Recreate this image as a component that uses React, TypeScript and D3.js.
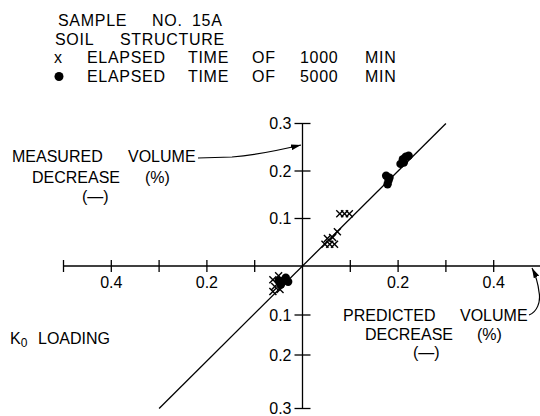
import React from "react";
import * as d3 from "d3";

// ---- data ----
const xTickValues = [-0.5, -0.4, -0.3, -0.2, -0.1, 0.1, 0.2, 0.3, 0.4];
const xTickLabels = [-0.4, -0.2, 0.2, 0.4];
const yTickValues = [0.3, 0.2, 0.1, -0.1, -0.2, -0.3];

// elapsed time of 1000 min (crosses): [predicted, measured]
const cross1000: [number, number][] = [
  [0.078, 0.11], [0.088, 0.11], [0.098, 0.11],
  [0.047, 0.046], [0.057, 0.046], [0.067, 0.046],
  [0.052, 0.058], [0.063, 0.06], [0.073, 0.072],
  [-0.062, -0.028], [-0.058, -0.042], [-0.05, -0.02], [-0.047, -0.048], [-0.062, -0.052],
];
// elapsed time of 5000 min (dots)
const dot5000: [number, number][] = [
  [0.175, 0.19], [0.18, 0.18], [0.178, 0.172], [0.182, 0.186],
  [0.205, 0.215], [0.21, 0.225], [0.216, 0.23], [0.222, 0.232], [0.212, 0.218],
  [-0.04, -0.03], [-0.035, -0.024], [-0.045, -0.038], [-0.03, -0.032], [-0.05, -0.03],
];
// line of equality
const equalityLine: [number, number][] = [[-0.3, -0.3], [0.3, 0.3]];

const FONT = "'Liberation Sans', Arial, Helvetica, sans-serif";

export default function App() {
  const x = d3.scaleLinear().domain([-0.5, 0.5]).range([63.5, 541.5]);
  const y = d3.scaleLinear().domain([-0.3, -0.2, -0.1, 0, 0.3]).range([408.5, 355, 315, 266, 123.5]);
  const x0 = x(0);
  const y0 = y(0);
  const line = d3.line<[number, number]>().x((d) => x(d[0])).y((d) => y(d[1]));
  const fmt = d3.format(".1f");
  const cs = 3.5;

  return (
    <svg width={540} height={416} style={{ position: "absolute", left: 0, top: 0, background: "#fff" }}
      fontFamily={FONT} fill="#000">
      <defs>
        <marker id="ah" viewBox="0 0 10 6" refX="10" refY="3" markerWidth="10" markerHeight="6" orient="auto" markerUnits="userSpaceOnUse">
          <path d="M0,0 L10,3 L0,6 Z" fill="#000" />
        </marker>
      </defs>

      {/* header / legend */}
      <g fontSize={16} letterSpacing={0.7}>
        <text y={26}><tspan x={58}>SAMPLE</tspan><tspan x={152}>NO.</tspan><tspan x={192}>15A</tspan></text>
        <text y={44.5}><tspan x={55}>SOIL</tspan><tspan x={120}>STRUCTURE</tspan></text>
        <text y={63}><tspan x={54}>x</tspan><tspan x={87}>ELAPSED</tspan><tspan x={188}>TIME</tspan><tspan x={252}>OF</tspan><tspan x={300}>1000</tspan><tspan x={365}>MIN</tspan></text>
        <circle cx={59} cy={76.5} r={4.5} />
        <text y={81.7}><tspan x={87}>ELAPSED</tspan><tspan x={188}>TIME</tspan><tspan x={252}>OF</tspan><tspan x={300}>5000</tspan><tspan x={365}>MIN</tspan></text>
      </g>

      {/* axes */}
      <line x1={x(-0.5)} x2={540} y1={y0} y2={y0} stroke="#000" strokeWidth={1.3} />
      <line x1={x0} x2={x0} y1={y(0.3)} y2={y(-0.3)} stroke="#000" strokeWidth={1.3} />
      {xTickValues.map((v) => (
        <line key={"xt" + v} x1={x(v)} x2={x(v)} y1={y0 - 6} y2={y0 + 6} stroke="#000" strokeWidth={1.3} />
      ))}
      {yTickValues.map((v) => (
        <line key={"yt" + v} x1={x0 - 8} x2={x0 + 8} y1={y(v)} y2={y(v)} stroke="#000" strokeWidth={1.3} />
      ))}
      <g fontSize={16}>
        {xTickLabels.map((v) => (
          <text key={"xl" + v} x={x(v)} y={288} textAnchor="middle">{fmt(Math.abs(v))}</text>
        ))}
        {yTickValues.map((v) => (
          <text key={"yl" + v} x={x0 - 11} y={y(v)} dy="0.36em" textAnchor="end">{fmt(Math.abs(v))}</text>
        ))}
      </g>

      {/* equality line */}
      <path d={line(equalityLine) || ""} fill="none" stroke="#000" strokeWidth={1.3} />

      {/* data */}
      {dot5000.map((d, i) => (
        <circle key={"d" + i} cx={x(d[0])} cy={y(d[1])} r={4.2} />
      ))}
      {cross1000.map((d, i) => (
        <g key={"c" + i} stroke="#000" strokeWidth={1.4}>
          <line x1={x(d[0]) - cs} x2={x(d[0]) + cs} y1={y(d[1]) - cs} y2={y(d[1]) + cs} />
          <line x1={x(d[0]) - cs} x2={x(d[0]) + cs} y1={y(d[1]) + cs} y2={y(d[1]) - cs} />
        </g>
      ))}

      {/* measured label */}
      <g fontSize={16}>
        <text y={162}><tspan x={12}>MEASURED</tspan><tspan x={128}>VOLUME</tspan></text>
        <text y={183}><tspan x={32}>DECREASE</tspan><tspan x={145}>(%)</tspan></text>
        <text y={202} x={82}>(—)</text>
      </g>
      <path d="M198,158 L232,157 C258,155 280,150 301,145" fill="none" stroke="#000" strokeWidth={1.2} markerEnd="url(#ah)" />

      {/* predicted label */}
      <g fontSize={16}>
        <text y={321}><tspan x={343}>PREDICTED</tspan><tspan x={460}>VOLUME</tspan></text>
        <text y={340}><tspan x={365}>DECREASE</tspan><tspan x={477}>(%)</tspan></text>
        <text y={358} x={413}>(—)</text>
      </g>
      <path d="M529,315 C537,312 541,302 539,292 C538,283 536,276 532,268" fill="none" stroke="#000" strokeWidth={1.2} markerEnd="url(#ah)" />

      {/* K0 loading */}
      <text y={344} fontSize={16}>
        <tspan x={10}>K</tspan><tspan fontSize={12} dy={3}>0</tspan><tspan x={38} dy={-3}>LOADING</tspan>
      </text>
    </svg>
  );
}
